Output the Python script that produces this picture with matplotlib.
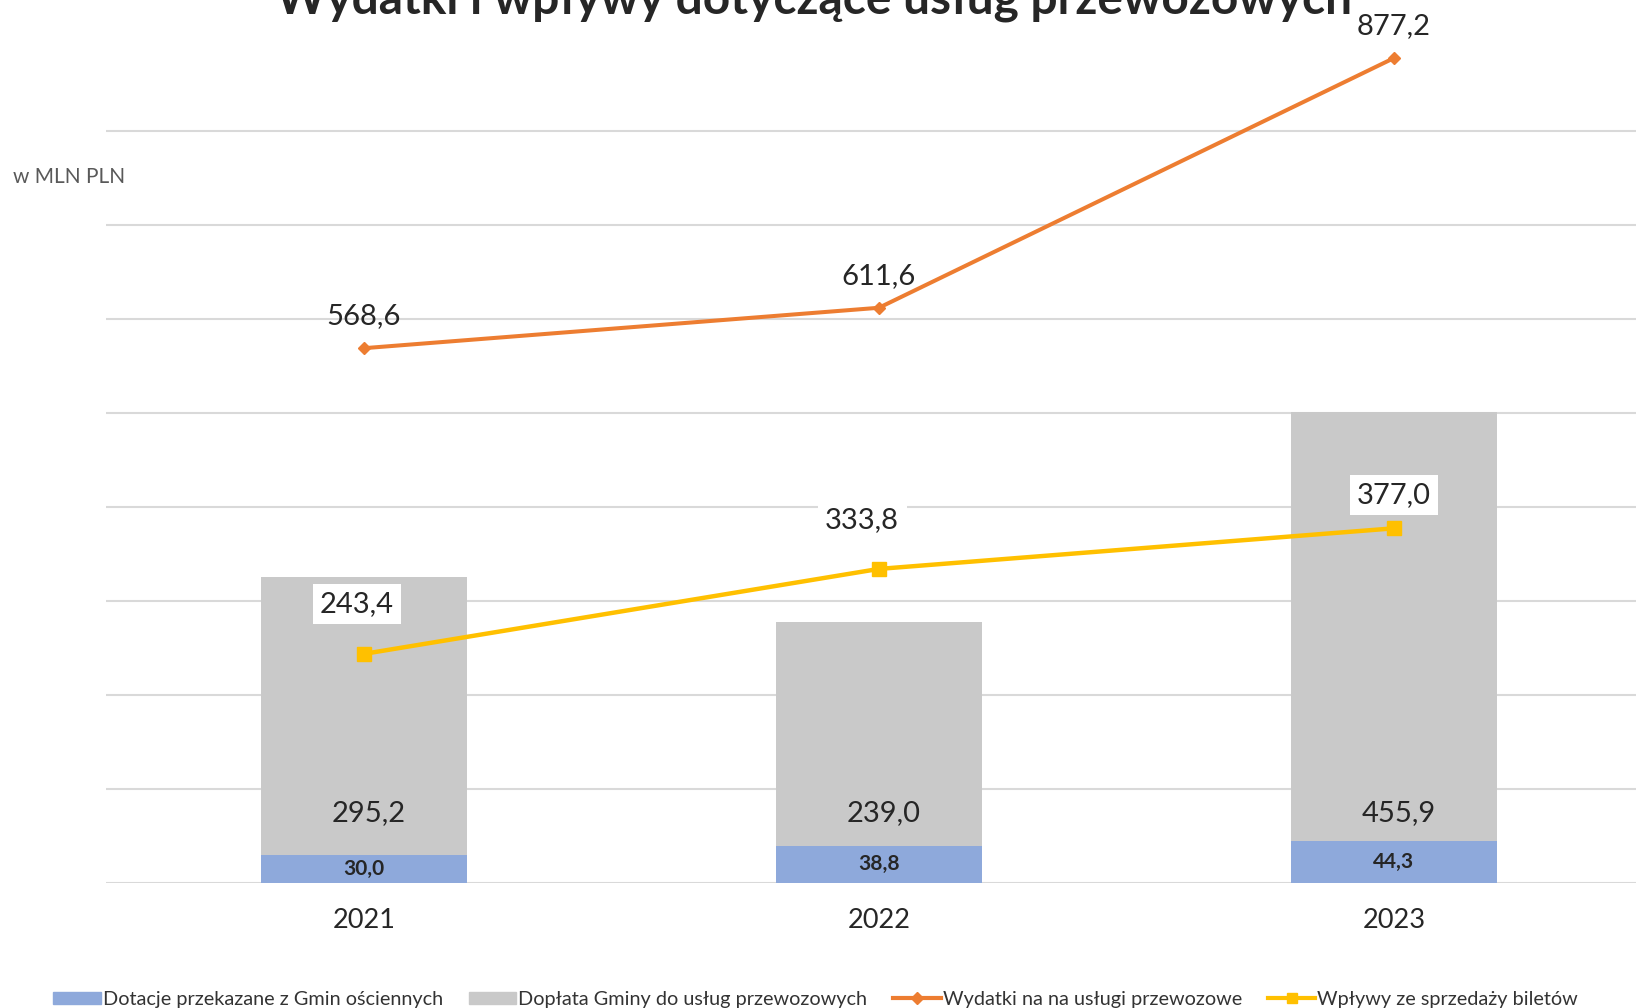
import matplotlib
matplotlib.use("Agg")
from matplotlib import pyplot as plt
from matplotlib.patches import Patch
from matplotlib.lines import Line2D

# data (mln PLN)
years = ["2021", "2022", "2023"]
dotacje = [30.0, 38.8, 44.3]          # Dotacje przekazane z Gmin ościennych
doplata = [295.2, 239.0, 455.9]       # Dopłata Gminy do usług przewozowych
wydatki = [568.6, 611.6, 877.2]       # Wydatki na na usługi przewozowe
wplywy = [243.4, 333.8, 377.0]        # Wpływy ze sprzedaży biletów

c_blue = "#8EA9DB"
c_grey = "#C9C9C9"
c_orange = "#ED7D31"
c_yellow = "#FFC000"
txt = "#262626"

plt.rcParams['font.family'] = ['Lato', 'DejaVu Sans']

fig = plt.figure(figsize=(16.36, 10.08), dpi=100)
ax = fig.add_axes([0.065, 0.1243, 0.935, 0.8757])

x = list(range(len(years)))
ax.bar(x, dotacje, width=0.4, color=c_blue, zorder=2)
ax.bar(x, doplata, width=0.4, bottom=dotacje, color=c_grey, zorder=2)

ax.plot(x, wydatki, color=c_orange, lw=2.9, marker="D", ms=6, zorder=3)
ax.plot(x, wplywy, color=c_yellow, lw=3.2, marker="s", ms=10, zorder=3)

ax.set_xlim(-0.5, 2.47)
ax.set_ylim(0, 939)
ax.set_yticks(range(0, 900, 100))
ax.yaxis.grid(True, color="#D9D9D9", lw=1.5, zorder=0)
ax.tick_params(axis="y", length=0, labelleft=False)
ax.tick_params(axis="x", length=0, labelsize=19.5, labelcolor=txt, pad=18.5)
ax.set_xticks(x)
ax.set_xticklabels(years)
for s in ax.spines.values():
    s.set_visible(False)

def fmt(v):
    return f"{v:.1f}".replace(".", ",")

# bar labels
for i in x:
    ax.text(i, dotacje[i] / 2, fmt(dotacje[i]), ha="center", va="center",
            fontsize=15, fontweight="bold", color=txt, zorder=4)
    ax.text(i + 0.01, 74, fmt(doplata[i]), ha="center", va="center",
            fontsize=21, color=txt, zorder=4)

# line labels
for i in x:
    ax.annotate(fmt(wydatki[i]), (i, wydatki[i]), xytext=(0, 23),
                textcoords="offset points", ha="center", va="center",
                fontsize=21, color=txt, zorder=4)
offs = [(-5, 36), (-12, 35), (0, 24)]
for i in x:
    ax.annotate(fmt(wplywy[i]), (i, wplywy[i]), xytext=offs[i],
                textcoords="offset points", ha="center", va="center",
                fontsize=21, color=txt, zorder=4,
                bbox=dict(boxstyle="square,pad=0.25", fc="white", ec="none"))

fig.text(0.008, 1 - 170 * 1.0434 / 1008, "w MLN PLN", ha="left", va="center",
         fontsize=15, color="#595959")
fig.text(0.4975, 1 - 13 / 1008, "Wydatki i wpływy dotyczące usług przewozowych",
         ha="center", va="baseline", fontsize=34.5, fontweight="bold", color=txt)

handles = [
    Patch(color=c_blue, label="Dotacje przekazane z Gmin ościennych"),
    Patch(color=c_grey, label="Dopłata Gminy do usług przewozowych"),
    Line2D([], [], color=c_orange, lw=3, marker="D", ms=6,
           label="Wydatki na na usługi przewozowe"),
    Line2D([], [], color=c_yellow, lw=3, marker="s", ms=7,
           label="Wpływy ze sprzedaży biletów"),
]
fig.legend(handles=handles, loc="center", bbox_to_anchor=(0.4985, 0.0085),
           ncol=4, frameon=False, fontsize=14.3, handlelength=2.4,
           handleheight=0.6, handletextpad=0.1, columnspacing=1.3,
           labelcolor="#333333")

fig.savefig("out.png", dpi=100)
